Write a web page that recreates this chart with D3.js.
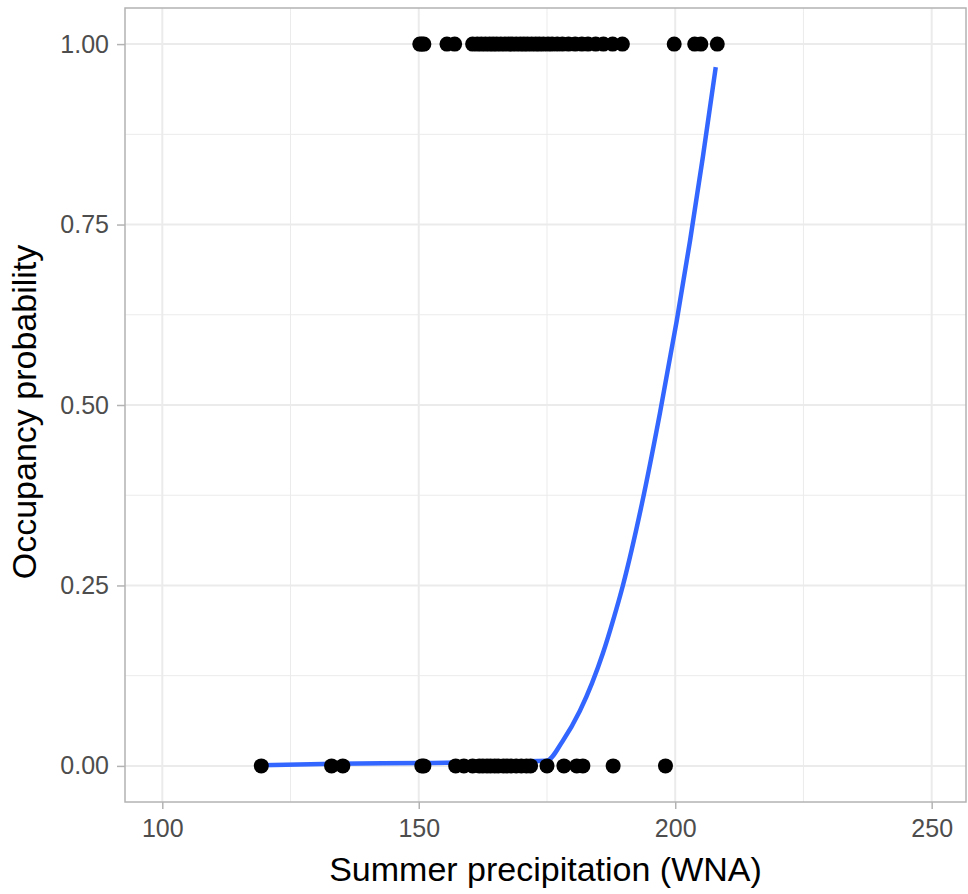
<!DOCTYPE html>
<html>
<head>
    <meta charset="UTF-8">
    <title>Occupancy probability</title>
    <style>
        body { margin: 0; background: #fff; }
        svg { font-family: "Liberation Sans", Arial, sans-serif; }
        .tick text { fill: #4d4d4d; font-size: 25px; }
        .tick line { stroke: #b3b3b3; stroke-width: 1.5px; }
        .domain { display: none; }
        .grid line { stroke: #ebebeb; }
        .title { fill: #000; font-size: 34px; }
    </style>
</head>
<body>
<script src="https://cdn.jsdelivr.net/npm/d3@7"></script>
<script>
    var width = 968, height = 894;
    var panel = {left: 125, right: 966, top: 8, bottom: 802};

    // observed presences (y = 1)
    var present = [150.2, 150.6, 151.0, 155.5, 157.0, 160.5, 161.4, 162.2, 163.0, 163.8,
        164.5, 165.2, 166.0, 166.8, 167.5, 168.2, 169.0, 169.8, 170.5, 171.2, 172.0,
        172.8, 173.5, 174.3, 175.2, 176.0, 177.0, 178.0, 179.2, 180.5, 181.8, 183.0,
        184.5, 186.0, 187.8, 189.7, 199.8, 203.8, 205.0, 208.2];

    // observed absences (y = 0)
    var absent = [119.3, 133.0, 135.2, 150.6, 151.0, 157.2, 158.8, 160.5, 161.8, 162.5,
        163.3, 164.0, 164.8, 165.5, 166.5, 167.2, 168.0, 169.0, 170.0, 171.0, 171.8,
        175.0, 178.3, 180.8, 182.0, 187.9, 198.1];

    // fitted curve
    var fitX = [119.3, 133.7, 150.9, 174.9, 178.1, 181.4, 183.8, 185.9, 187.9, 189.8,
        193.5, 197.0, 200.3, 202.9, 205.4, 207.9];
    var fitP = [0.001, 0.003, 0.004, 0.007, 0.035, 0.076, 0.115, 0.156, 0.202, 0.250,
        0.363, 0.488, 0.617, 0.728, 0.844, 0.968];

    var xTicks = [100, 150, 200, 250];
    var xMinor = [125, 175, 225];
    var yTicks = [0, 0.25, 0.5, 0.75, 1];
    var yMinor = [0.125, 0.375, 0.625, 0.875];

    var x = d3.scaleLinear().domain([92.73, 256.69]).range([panel.left, panel.right]);
    var y = d3.scaleLinear().domain([-0.05, 1.05]).range([panel.bottom, panel.top]);

    var svg = d3.select("body").append("svg")
        .attr("width", width)
        .attr("height", height);

    // grid
    var grid = svg.append("g").attr("class", "grid");
    grid.selectAll(".xminor").data(xMinor).enter().append("line")
        .attr("x1", (d) => x(d)).attr("x2", (d) => x(d))
        .attr("y1", panel.top).attr("y2", panel.bottom)
        .attr("stroke-width", 1);
    grid.selectAll(".yminor").data(yMinor).enter().append("line")
        .attr("y1", (d) => y(d)).attr("y2", (d) => y(d))
        .attr("x1", panel.left).attr("x2", panel.right)
        .attr("stroke-width", 1);
    grid.selectAll(".xmajor").data(xTicks).enter().append("line")
        .attr("x1", (d) => x(d)).attr("x2", (d) => x(d))
        .attr("y1", panel.top).attr("y2", panel.bottom)
        .attr("stroke-width", 2);
    grid.selectAll(".ymajor").data(yTicks).enter().append("line")
        .attr("y1", (d) => y(d)).attr("y2", (d) => y(d))
        .attr("x1", panel.left).attr("x2", panel.right)
        .attr("stroke-width", 2);

    // fitted line
    var line = d3.line()
        .x((d, i) => x(fitX[i]))
        .y((d, i) => y(fitP[i]))
        .curve(d3.curveMonotoneX);

    svg.append("path")
        .datum(fitX)
        .attr("fill", "none")
        .attr("stroke", "#3366ff")
        .attr("stroke-width", 4.5)
        .attr("d", line);

    // points
    var pts = present.map((v) => ({x: v, y: 1})).concat(absent.map((v) => ({x: v, y: 0})));
    svg.append("g").selectAll("circle")
        .data(pts)
        .enter().append("circle")
        .attr("cx", (d) => x(d.x))
        .attr("cy", (d) => y(d.y))
        .attr("r", 7.5)
        .attr("fill", "#000");

    // panel border
    svg.append("rect")
        .attr("x", panel.left).attr("y", panel.top)
        .attr("width", panel.right - panel.left)
        .attr("height", panel.bottom - panel.top)
        .attr("fill", "none")
        .attr("stroke", "#b3b3b3")
        .attr("stroke-width", 1.5);

    // axes
    svg.append("g")
        .attr("transform", `translate(0,${panel.bottom})`)
        .call(d3.axisBottom(x).tickValues(xTicks).tickSize(7).tickPadding(10).tickFormat(d3.format("d")));

    svg.append("g")
        .attr("transform", `translate(${panel.left},0)`)
        .call(d3.axisLeft(y).tickValues(yTicks).tickSize(8).tickPadding(8).tickFormat(d3.format(".2f")));

    svg.append("text")
        .attr("class", "title")
        .attr("x", (panel.left + panel.right) / 2)
        .attr("y", 881)
        .attr("text-anchor", "middle")
        .text("Summer precipitation (WNA)");

    svg.append("text")
        .attr("class", "title")
        .attr("transform", `translate(36,${(panel.top + panel.bottom) / 2 + 7}) rotate(-90)`)
        .attr("text-anchor", "middle")
        .text("Occupancy probability");
</script>
</body>
</html>
